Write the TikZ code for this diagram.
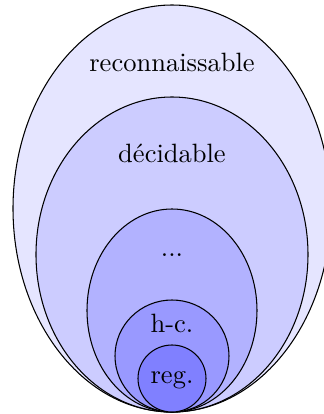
\documentclass[tikz,border=0pt]{standalone}
\usepackage{tikz}

\begin{document}
\begin{tikzpicture}[
  x=0.01326cm, y=-0.01326cm,
  langset/.style={draw, line width=0.4pt},
  lbl/.style={anchor=base, inner sep=0pt}
]
\useasboundingbox (0,0) rectangle (324,414);

\filldraw[langset, fill=blue!10] (172,208.5) ellipse [x radius=159, y radius=203.5];
\filldraw[langset, fill=blue!20] (172,254.5) ellipse [x radius=136, y radius=157.5];
\filldraw[langset, fill=blue!30] (172,310.5) ellipse [x radius=85, y radius=101.5];
\filldraw[langset, fill=blue!40] (172,356) ellipse [x radius=57, y radius=56];
\filldraw[langset, fill=blue!50] (172,378.5) ellipse [x radius=34, y radius=33.5];

\node[lbl] (rec) at (172,71.5) {reconnaissable};
\node[lbl] (dec) at (172,162) {décidable};
\node[lbl] (dots) at (172,256) {...};
\node[lbl] (hc) at (172,332) {h-c.};
\node[lbl] (reg) at (172,383) {reg.};
\end{tikzpicture}
\end{document}
